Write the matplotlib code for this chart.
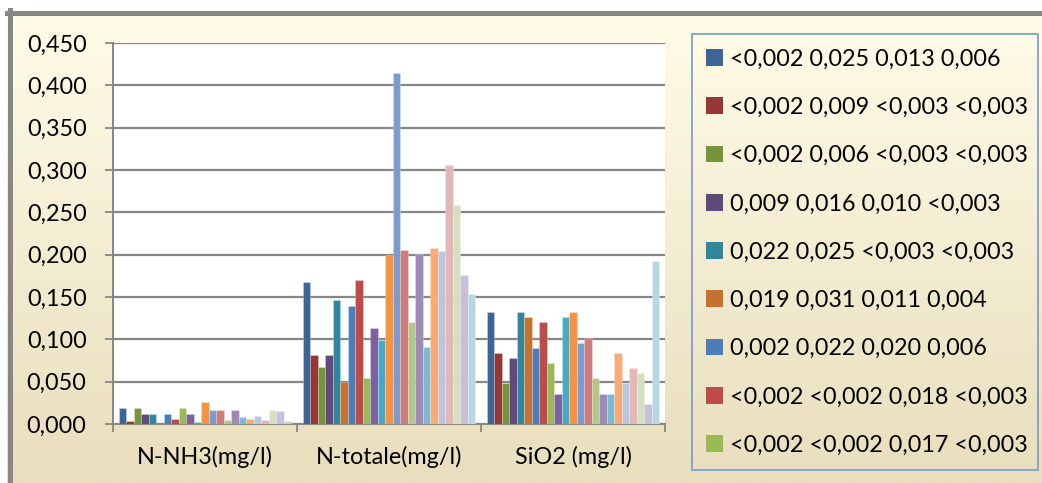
import numpy as np
import matplotlib
matplotlib.use("Agg")
import matplotlib.pyplot as plt
from matplotlib.patches import Patch
from matplotlib.ticker import FuncFormatter, FixedLocator

plt.rcParams['font.family'] = ['Lato', 'DejaVu Sans']

categories = ["N-NH3(mg/l)", "N-totale(mg/l)", "SiO2 (mg/l)"]

# one value per series, 23 series per category
nh3 = [0.019, 0.003, 0.019, 0.012, 0.012, 0.000, 0.012, 0.006, 0.019, 0.012, 0.002, 0.026,
       0.017, 0.016, 0.005, 0.017, 0.008, 0.006, 0.010, 0.005, 0.017, 0.015, 0.003]
ntot = [0.168, 0.081, 0.067, 0.081, 0.147, 0.050, 0.139, 0.170, 0.054, 0.113, 0.099, 0.200,
        0.415, 0.205, 0.120, 0.201, 0.091, 0.208, 0.204, 0.306, 0.259, 0.176, 0.153]
sio2 = [0.132, 0.084, 0.048, 0.078, 0.132, 0.126, 0.090, 0.120, 0.072, 0.036, 0.126, 0.132,
        0.096, 0.102, 0.054, 0.036, 0.036, 0.084, 0.048, 0.066, 0.060, 0.024, 0.192]

legend_labels = [
    "<0,002 0,025 0,013 0,006",
    "<0,002 0,009 <0,003 <0,003",
    "<0,002 0,006 <0,003 <0,003",
    "0,009 0,016 0,010 <0,003",
    "0,022 0,025 <0,003 <0,003",
    "0,019 0,031 0,011 0,004",
    "0,002 0,022 0,020 0,006",
    "<0,002 <0,002 0,018 <0,003",
    "<0,002 <0,002 0,017 <0,003",
]

colors = [
    "#3C6494", "#953735", "#77933C", "#604A7B", "#31859C", "#C5722F",
    "#4A7EBB", "#BE4B48", "#98B954", "#7D60A0", "#46AAC5", "#F69240",
    "#7E9BCB", "#CD7E7C", "#B2C889", "#9D8AB6", "#7BBBD2", "#F8AB78",
    "#B9C7E0", "#E2B7B6", "#D3DFBE", "#C8BFD8", "#B7D8E3",
]

W, H = 1042, 483
fig = plt.figure(figsize=(W / 100, H / 100), dpi=100, facecolor="white")

# chart area: cream-to-tan gradient with a grey frame on top and left
bg = fig.add_axes([7 / W, 0, 1 - 7 / W, (H - 10) / H])
top = np.array([255, 252, 232]) / 255
bot = np.array([233, 222, 189]) / 255
t = np.linspace(0, 1, 256)[:, None]
grad = (top * (1 - t) + bot * t)[:, None, :]
bg.imshow(grad, aspect="auto", extent=[0, 1, 0, 1])
bg.set_axis_off()
fig.add_artist(plt.Line2D([7 / W, 1], [1 - 12.5 / H] * 2, color="#878787", lw=3.6))
fig.add_artist(plt.Line2D([9.5 / W] * 2, [0, 1 - 10 / H], color="#878787", lw=3.6))

ax = fig.add_axes([113 / W, (H - 424) / H, (665 - 113) / W, (424 - 43) / H])
ax.set_facecolor("white")

n = len(nh3)
x = np.arange(len(categories))
width = 1 / (n + 1.5)
series = list(zip(nh3, ntot, sio2))
for i, vals in enumerate(series):
    ax.bar(x + (i - (n - 1) / 2) * width, vals, width, color=colors[i],
           edgecolor=(1, 1, 1, 0.35), linewidth=0.5, zorder=3)

ax.set_xlim(-0.5, 2.5)
ax.set_ylim(0, 0.45)
ax.yaxis.set_major_locator(FixedLocator(np.arange(0, 0.451, 0.05)))
ax.yaxis.set_major_formatter(FuncFormatter(lambda v, p: f"{v:.3f}".replace(".", ",")))
ax.grid(axis="y", color="#868686", lw=1.6, zorder=1)

ax.set_xticks([-0.5, 0.5, 1.5, 2.5])
ax.set_xticklabels([])
ax.set_xticks(x, minor=True)
ax.set_xticklabels(categories, minor=True, fontsize=16.8)
ax.tick_params(axis="x", which="major", length=6, width=1.3, color="#868686", direction="out")
ax.tick_params(axis="x", which="minor", length=0, pad=16)
ax.tick_params(axis="y", length=6, width=1.3, color="#868686", pad=13, labelsize=16.8)

for side in ("top", "right"):
    ax.spines[side].set_visible(False)
for side in ("left", "bottom"):
    ax.spines[side].set_color("#868686")
    ax.spines[side].set_linewidth(1.4)

handles = [Patch(facecolor=colors[i], label=legend_labels[i]) for i in range(len(legend_labels))]
leg = fig.legend(handles=handles, loc="upper left",
                 bbox_to_anchor=(692 / W, 1 - 467 / H, (1038 - 692) / W, (467 - 34) / H),
                 mode="expand", fontsize=16.8, frameon=True, fancybox=False,
                 handlelength=0.72, handleheight=0.72, handletextpad=0.3,
                 labelspacing=1.17, borderpad=0.62, borderaxespad=0)
leg.get_frame().set_facecolor("none")
leg.get_frame().set_edgecolor("#6A95CB")
leg.get_frame().set_linewidth(1.4)

fig.savefig("out.png", dpi=100, facecolor="white")
